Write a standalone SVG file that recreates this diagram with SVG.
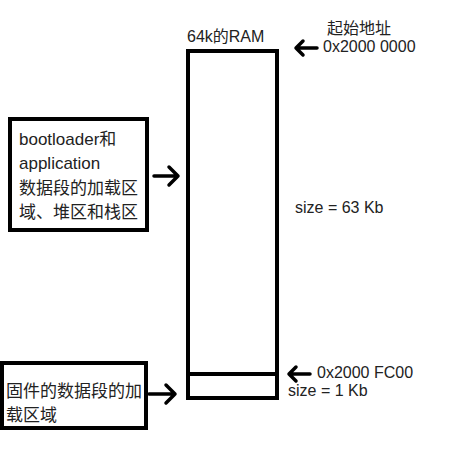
<svg xmlns="http://www.w3.org/2000/svg" width="451" height="456" viewBox="0 0 451 456">
<style>
.box{fill:#fff;stroke:#000;stroke-width:4}
.t{font-family:"Liberation Sans","Noto Sans CJK SC",sans-serif;fill:#222}
.t17{font-size:17px}
.t16{font-size:16px}
.arr{fill:none;stroke:#000;stroke-width:3.5;stroke-linecap:round;stroke-linejoin:round}
</style>
<rect width="451" height="456" fill="#fff"/>
<g id="ram">
<rect class="box" x="188" y="51" width="89" height="347"/>
<line x1="188" y1="374" x2="277" y2="374" stroke="#000" stroke-width="4"/>
<text class="t t16" x="187" y="42">64k的RAM</text>
<text class="t t16" x="295" y="213">size = 63 Kb</text>
<text class="t t16" x="288" y="396">size = 1 Kb</text>
</g>
<g id="start-addr">
<text class="t t16" x="327" y="34">起始地址</text>
<text class="t t16" x="323" y="52">0x2000 0000</text>
</g>
<g id="fc00-addr">
<text class="t t16" x="317" y="378">0x2000 FC00</text>
</g>
<g id="boot-app">
<rect class="box" x="10" y="119" width="137" height="111"/>
<text class="t t17" x="19" y="145">bootloader和</text>
<text class="t t17" x="19" y="169">application</text>
<text class="t t17" x="19" y="194">数据段的加载区</text>
<text class="t t17" x="19" y="218">域、堆区和栈区</text>
</g>
<g id="firmware">
<rect class="box" x="2" y="363" width="144" height="65"/>
<text class="t t17" x="6" y="397">固件的数据段的加</text>
<text class="t t17" x="6" y="421">载区域</text>
</g>
<g id="connectors">
<path class="arr" d="M154,176 L178,176 M169,167 L178,176 L169,185"/>
<path class="arr" d="M149,394 L175,394 M166,385 L175,394 L166,403"/>
<path class="arr" d="M296,48 L317,48 M303,41 L296,48 L303,55"/>
<path class="arr" d="M289,374 L310,374 M296,367 L289,374 L296,381"/>
</g>
</svg>
